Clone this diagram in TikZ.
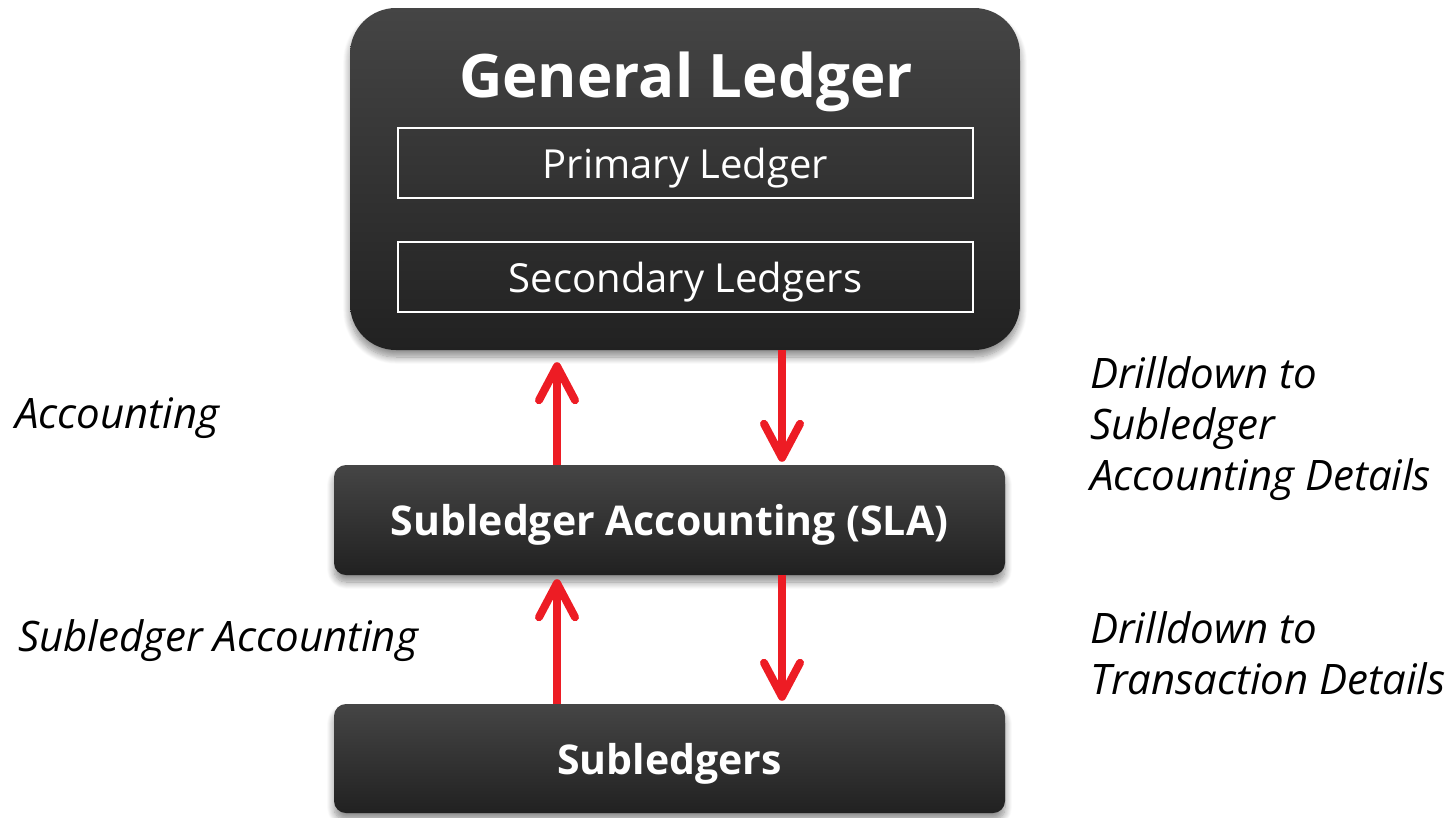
\documentclass[tikz,border=0pt]{standalone}
\usepackage{fontspec}
\setmainfont{Open Sans}
\usetikzlibrary{arrows.meta,shadows.blur}
\definecolor{arrowred}{HTML}{ED1C24}
\tikzset{
  darkbox/.style={rounded corners=#1, top color=black!73, bottom color=black!87,
    draw=none, text=white, inner sep=0pt, text depth=0pt,
    blur shadow={shadow xshift=0pt, shadow yshift=-7pt, shadow blur radius=7pt, shadow blur steps=10, shadow opacity=45}},
  innerbox/.style={draw=white, line width=1.5pt, minimum width=575pt, minimum height=70pt, text=white, inner sep=0pt,
    text depth=0pt, font=\fontsize{40}{46}\selectfont},
  flowarrow/.style={draw=arrowred, line width=8pt,
    -{Straight Barb[length=34pt, width=36pt, line cap=round, line join=round]}},
  sidelabel/.style={anchor=base west, align=left, inner sep=0pt, font=\fontsize{42}{51}\itshape\selectfont}
}
\begin{document}
\begin{tikzpicture}[x=1pt,y=-1pt]
\useasboundingbox (0,0) rectangle (1447,817);
% boxes
\node[darkbox=46pt, minimum width=670pt, minimum height=342pt] (gl) at (685,179) {};
\node[anchor=base, text=white, inner sep=0pt, font=\fontsize{60}{70}\bfseries\selectfont] (gltitle) at (686,97) {General Ledger};
\node[innerbox] (pl) at (685.5,163) {Primary Ledger};
\node[innerbox] (sl) at (685.5,277) {Secondary Ledgers};
\node[darkbox=12pt, minimum width=671pt, minimum height=110pt, font=\fontsize{41}{46}\bfseries\selectfont] (sla) at (669.5,520) {Subledger Accounting (SLA)};
\node[darkbox=12pt, minimum width=671pt, minimum height=109pt, font=\fontsize{41}{46}\bfseries\selectfont] (sub) at (669.5,758.5) {Subledgers};
% arrow columns
\coordinate (ux) at (557,0);
\coordinate (dx) at (782,0);
% arrows
\draw[flowarrow, shorten >=12pt] (ux |- sla.north) -- (ux |- gl.south);
\draw[flowarrow, shorten >=3pt] (dx |- gl.south) -- (dx |- sla.north);
\draw[flowarrow, shorten >=4pt] (ux |- sub.north) -- (ux |- sla.south);
\draw[flowarrow, shorten >=3pt] (dx |- sla.south) -- (dx |- sub.north);
% labels
\node[sidelabel] (lacc) at (15,428) {Accounting};
\node[sidelabel] (lsla) at (18,651) {Subledger Accounting};
\node[sidelabel] (ldrill1) at (1090,490) {Drilldown to\\Subledger\\Accounting Details};
\node[sidelabel] (ldrill2) at (1090,694) {Drilldown to\\Transaction Details};
\end{tikzpicture}
\end{document}
